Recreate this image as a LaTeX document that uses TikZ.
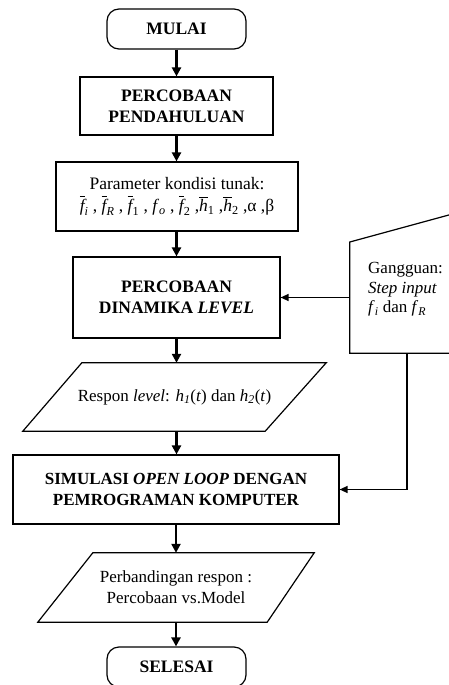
\documentclass[tikz,border=0pt]{standalone}
\usepackage{fontspec}
\usepackage{amsmath}
\setmainfont{Liberation Serif}
\usetikzlibrary{arrows.meta}
\newcommand{\ob}[2]{$\overline{\textit{#1}}_{#2}$}
\begin{document}
\begin{tikzpicture}[x=1pt,y=-1pt,
 box/.style={draw,line width=1.2pt,align=center,inner sep=0pt},
 term/.style={box,rounded corners=12pt},
 ghost/.style={align=center,inner sep=0pt},
 rm/.style={font=\fontsize{17}{21}\selectfont},
 bf/.style={font=\fontsize{17.5}{21}\selectfont\bfseries},
 arr/.style={line width=2.4pt,-{Triangle[length=9pt,width=9pt]}},
 thinarr/.style={line width=1.3pt,-{Triangle[length=8pt,width=7pt]}},
 outline/.style={line width=1.2pt,line join=miter}]
\clip (0,0) rectangle (449,685);

\node[term,bf,minimum width=139pt,minimum height=40pt] (mulai) at (176.5,29) {MULAI};
\node[box,bf,minimum width=193pt,minimum height=58pt] (pend) at (176.5,106) {PERCOBAAN\\PENDAHULUAN};
\node[box,rm,font=\fontsize{17.5}{21}\selectfont,minimum width=242pt,minimum height=69pt] (param) at (177,196.5)
  {Parameter kondisi tunak:\\[1pt]\ob{f}{\textit{i}} , \ob{f}{\textit{R}} , \ob{f}{\textup{1}} , \textit{f}\textsubscript{\textit{o}} , \ob{f}{\textup{2}} ,\ob{h}{\textup{1}} ,\ob{h}{\textup{2}} ,α ,β};
\node[box,bf,minimum width=207pt,minimum height=81pt] (dyn) at (176.5,297.5) {PERCOBAAN\\DINAMIKA \textit{LEVEL}};
\node[ghost,rm,minimum width=303pt,minimum height=68pt] (resp) at (174.5,397)
  {Respon \textit{level}: \textit{h}\textsubscript{\textit{1}}(\textit{t}) dan \textit{h}\textsubscript{\textit{2}}(\textit{t})};
\draw[outline] (resp.south west) -- ([xshift=-61pt]resp.south east) -- (resp.north east) -- ([xshift=59pt]resp.north west) -- cycle;
\node[box,bf,font=\fontsize{17}{21}\selectfont\bfseries,minimum width=326pt,minimum height=69pt] (sim) at (176,489.5) {SIMULASI \textit{OPEN LOOP} DENGAN\\PEMROGRAMAN KOMPUTER};
\node[ghost,rm,minimum width=276pt,minimum height=69pt] (band) at (176,587.5) {Perbandingan respon :\\Percobaan vs.Model};
\draw[outline] (band.south west) -- ([xshift=-47pt]band.south east) -- (band.north east) -- ([xshift=55pt]band.north west) -- cycle;
\node[term,bf,minimum width=139pt,minimum height=40pt] (selesai) at (176.5,667) {SELESAI};

% disturbance (manual input)
\node[ghost,minimum width=130pt,minimum height=111pt] (gang) at (415,297.5) {};
\draw[outline] (gang.south west) -- (gang.west |- 0,242) -- (480,206.5) -- (gang.south east) -- cycle;
\node[rm,font=\fontsize{17}{19.5}\selectfont,align=left,inner sep=0pt,anchor=north west] (gtext) at (368,262.5)
  {Gangguan:\\\textit{Step input}\\\textit{f}\textsubscript{\textit{i}} dan \textit{f}\textsubscript{\textit{R}}};

\draw[arr] (mulai.south) -- (mulai.south |- pend.north);
\draw[arr] (pend.south) -- (pend.south |- param.north);
\draw[arr] (param.south -| dyn.north) -- (dyn.north);
\draw[arr] (dyn.south) -- (dyn.south |- resp.north);
\draw[arr] (dyn.south |- resp.south) -- (dyn.south |- sim.north);
\draw[arr] (sim.south) -- (sim.south |- band.north);
\draw[arr] (band.south) -- (band.south |- selesai.north);
\draw[thinarr] (gang.west) -- (dyn.east);
\draw[thinarr] ([xshift=-8pt]gang.south) |- (sim.east);
\end{tikzpicture}
\end{document}
